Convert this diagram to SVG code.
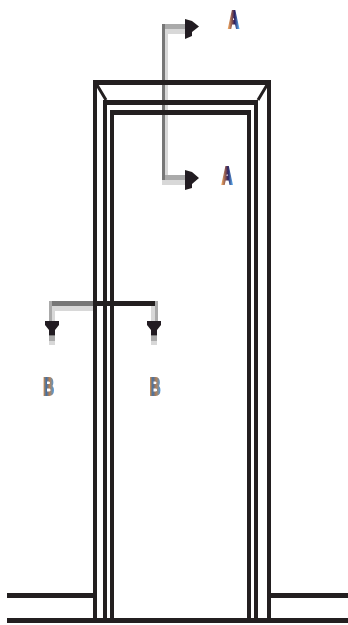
<svg xmlns="http://www.w3.org/2000/svg" width="348" height="625" viewBox="0 0 348 625">
<defs>
<linearGradient id="tone" x1="0" y1="0" x2="1" y2="0">
<stop offset="0" stop-color="#f0a860"/><stop offset="0.4" stop-color="#7a4a50"/><stop offset="0.6" stop-color="#2a2060"/><stop offset="1" stop-color="#5aa8e8"/>
</linearGradient>
<linearGradient id="toneb" x1="0" y1="0" x2="1" y2="0">
<stop offset="0" stop-color="#e8882a"/><stop offset="0.3" stop-color="#3f70a8"/><stop offset="0.6" stop-color="#b88050"/><stop offset="1" stop-color="#4a98e0"/>
</linearGradient>
<filter id="soft" x="-40%" y="-40%" width="180%" height="180%"><feGaussianBlur stdDeviation="0.7"/></filter>
<filter id="soft2" x="-30%" y="-30%" width="160%" height="160%"><feGaussianBlur stdDeviation="0.6"/></filter>
</defs>
<style>
.wall{fill:#231f20}
.dark{fill:#777}
.mid{fill:#aaa}
.light{fill:#d8d8d8}
.head{fill:#231f20;filter:url(#soft2)}
.lab{font-family:"Liberation Sans",Arial,sans-serif;font-size:24px;font-weight:bold;text-anchor:middle;stroke-width:2}
.a{fill:url(#tone);stroke:url(#tone);filter:url(#soft)}
.b{fill:url(#toneb);stroke:url(#toneb);filter:url(#soft)}
</style>
<rect width="348" height="625" fill="#fff"/>
<g id="connectors">
<rect class="light" x="165" y="29" width="3" height="156"/>
<rect class="dark" x="162" y="24" width="3" height="158"/>
<rect class="mid" x="165" y="24" width="24" height="5"/>
<rect class="light" x="165" y="29" width="24" height="5"/>
<rect class="mid" x="165" y="175" width="24" height="5"/>
<rect class="light" x="162" y="180" width="27" height="5"/>
<polygon class="head" points="185,19 192,21 199,26.500 192,32 192,36 185,39"/>
<polygon class="head" points="185,170 192,172 199,178 192,184 192,188 185,190"/>
<rect class="light" x="52" y="306" width="41" height="5"/>
<rect class="dark" x="52" y="301" width="41" height="5"/>
<rect class="mid" x="49" y="301" width="3" height="22"/>
<rect class="light" x="52" y="311" width="3" height="12"/>
<rect class="mid" x="155" y="301" width="3" height="22"/>
<rect class="light" x="151" y="306" width="4" height="17"/>
<rect class="dark" x="49" y="330" width="6" height="6"/>
<rect class="mid" x="49" y="336" width="6" height="5"/>
<rect class="light" x="49" y="341" width="6" height="4"/>
<rect class="dark" x="151" y="330" width="6" height="6"/>
<rect class="mid" x="151" y="336" width="6" height="5"/>
<rect class="light" x="151" y="341" width="6" height="4"/>
<polygon class="head" points="45,321 59,321 59,325 55,330 55,335 49,335 49,330 45,325"/>
<polygon class="head" points="147,321 161,321 161,325 157,330 157,335 151,335 151,330 147,325"/>
</g>
<g id="door">
<rect class="wall" x="93" y="80" width="178" height="5"/>
<rect class="wall" x="93" y="80" width="4" height="540"/>
<rect class="wall" x="267" y="80" width="4" height="540"/>
<rect class="wall" x="103" y="100" width="155" height="5"/>
<rect class="wall" x="103" y="100" width="4" height="520"/>
<rect class="wall" x="254" y="100" width="4" height="520"/>
<rect class="wall" x="110" y="110" width="141" height="5"/>
<rect class="wall" x="110" y="110" width="4" height="510"/>
<rect class="wall" x="247" y="110" width="4" height="510"/>
<path d="M97 85 L106 100 M267 85 L258 100" stroke="#231f20" stroke-width="3" fill="none"/>
</g>
<g id="ground">
<rect class="wall" x="7" y="593" width="86" height="5"/>
<rect class="wall" x="271" y="593" width="77" height="5"/>
<rect class="wall" x="7" y="618" width="341" height="5"/>
</g>
<rect id="section-line" class="wall" x="93" y="301" width="62" height="5"/>
<g id="label-a-top"><text class="lab a" transform="translate(233.500 28) scale(0.62 1)">A</text></g>
<g id="label-a-bottom"><text class="lab a" transform="translate(227 184) scale(0.62 1)">A</text></g>
<g id="label-b-left"><text class="lab b" transform="translate(48.500 395) scale(0.62 1)">B</text></g>
<g id="label-b-right"><text class="lab b" transform="translate(155 395) scale(0.62 1)">B</text></g>
</svg>
